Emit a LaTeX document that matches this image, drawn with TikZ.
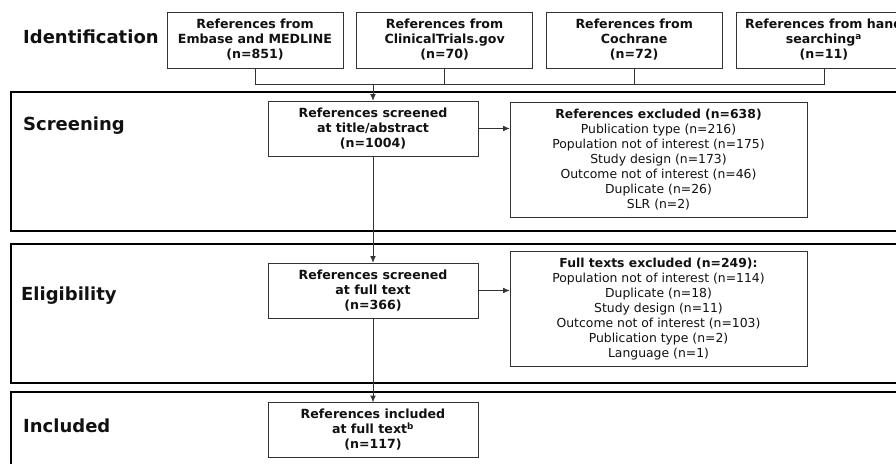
\documentclass[tikz,border=0pt]{standalone}
\usepackage{fontspec}
\setmainfont{DejaVu Sans}
\usepackage{xcolor}
\usetikzlibrary{positioning, arrows.meta}
\definecolor{prline}{HTML}{333333}
\definecolor{prink}{HTML}{111111}

\begin{document}
\begin{tikzpicture}[
  x=1pt, y=-1pt,
  box/.style={draw=prline, semithick, align=center, text=prink, inner sep=2pt, font=\fontsize{12.6}{15}\selectfont\bfseries},
  src/.style={box, minimum width=176pt, minimum height=56pt},
  stagebox/.style={box, minimum width=210pt, minimum height=55pt},
  exbox/.style={box, minimum width=297pt, minimum height=115pt, font=\fontsize{12.4}{15}\selectfont},
  band/.style={draw=black, line width=2.6pt},
  phase/.style={anchor=base west, inner sep=0pt, text=prink, font=\fontsize{18}{20}\selectfont\bfseries},
  lnk/.style={semithick, prline},
  arr/.style={-{Latex[length=6.5pt, width=5.5pt]}, semithick, prline}
]
  \useasboundingbox (0,0) rectangle (896,463);
  \clip (0,0) rectangle (896,463);

  % phase bands
  \draw[band] (11,92) rectangle (910,231);
  \draw[band] (11,244) rectangle (910,383);
  \draw[band] (11,392) rectangle (910,480);

  \node[phase] (pid) at (23,43) {Identification};
  \node[phase] (psc) at (23,130) {Screening};
  \node[phase] (pel) at (21,300) {Eligibility};
  \node[phase] (pin) at (23,432) {Included};

  % sources
  \node[src] (em) at (255,40) {References from \\ Embase and MEDLINE \\ (n=851)};
  \node[src, right=13pt of em] (ct) {References from \\ ClinicalTrials.gov \\ (n=70)};
  \node[src, right=13pt of ct] (co) {References from \\ Cochrane \\ (n=72)};
  \node[src, right=13pt of co] (hs) {References from hand \\ searching\textsuperscript{a} \\ (n=11)};

  % stages
  \node[stagebox] (ts) at (373,128.5) {References screened \\ at title/abstract \\ (n=1004)};
  \node[stagebox] (ft) at (373,290.5) {References screened \\ at full text \\ (n=366)};
  \node[stagebox] (inc) at (373,430) {References included \\ at full text\textsuperscript{b} \\ (n=117)};

  \node[exbox] (ex) at (658.5,159.5) {\textbf{References excluded (n=638)} \\ Publication type (n=216) \\ Population not of interest (n=175) \\ Study design (n=173) \\ Outcome not of interest (n=46) \\ Duplicate (n=26) \\ SLR (n=2)};
  \node[exbox] (fx) at (658.5,309) {\textbf{Full texts excluded (n=249):} \\ Population not of interest (n=114) \\ Duplicate (n=18) \\ Study design (n=11) \\ Outcome not of interest (n=103) \\ Publication type (n=2) \\ Language (n=1)};

  % connectors
  \coordinate (j) at (373,84);
  \foreach \s in {em, ct, co, hs}
    \draw[lnk] (\s.south) |- (j);
  \draw[arr] (j) -- (ts.north);
  \draw[arr] (ts.east) -- (ts.east -| ex.west);
  \draw[arr] (ts) -- (ft);
  \draw[arr] (ft.east) -- (ft.east -| fx.west);
  \draw[arr] (ft) -- (inc);
\end{tikzpicture}
\end{document}
